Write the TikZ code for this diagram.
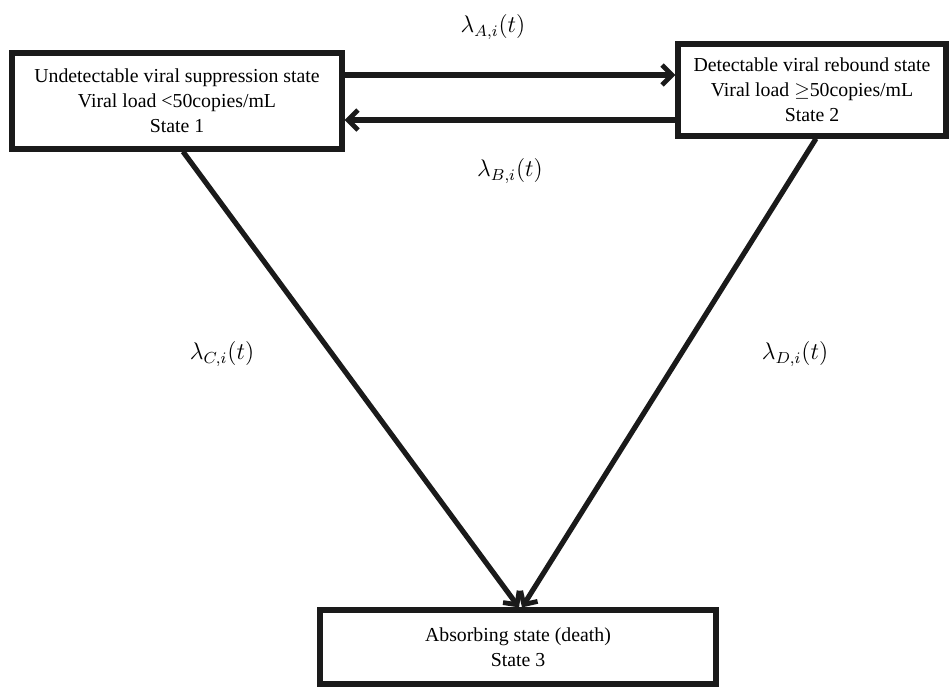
\documentclass[tikz,border=0pt]{standalone}
\usepackage{fontspec}
\setmainfont{Liberation Serif}
\usetikzlibrary{arrows.meta,positioning}
\definecolor{Ink}{HTML}{1A1A1A}
\tikzset{
  statebox/.style={draw=Ink,line width=2.6pt,align=center,inner sep=0pt,
    font=\fontsize{9.9}{12.5}\selectfont},
  trans/.style={draw=Ink,line width=2.6pt,
    -{Straight Barb[length=5pt,width=10pt,line width=2.4pt]}},
  rate/.style={font=\fontsize{12}{14}\selectfont}
}

\begin{document}
\begin{tikzpicture}[x=0.5pt,y=-0.5pt]
  \useasboundingbox (0,0) rectangle (951,687);
  % states
  \node[statebox,minimum width=165pt,minimum height=48pt] (sup) at (177,101)
    {Undetectable viral suppression state\\Viral load <50copies/mL\\State 1};
  \node[statebox,minimum width=134pt,minimum height=46pt] (reb) at (812,90)
    {Detectable viral rebound state\\Viral load $\geq$50copies/mL\\State 2};
  \node[statebox,minimum width=198pt,minimum height=37pt] (death) at (518,647)
    {Absorbing state (death)\\State 3};
  % transitions
  \path ([yshift=13pt]sup.east) coordinate (a1);
  \path ([yshift=-9.5pt]sup.east) coordinate (b1);
  \draw[trans] (a1) -- (a1 -| reb.west);
  \draw[trans] (b1 -| reb.west) -- (b1);
  \draw[trans] ([xshift=3pt]sup.south) -- ([xshift=0.5pt]death.north);
  \draw[trans] ([xshift=2pt]reb.south) -- ([xshift=2pt]death.north);
  % rates
  \node[rate] (ra) at (493,27) {$\lambda_{A,i}(t)$};
  \node[rate] (rb) at (510,171) {$\lambda_{B,i}(t)$};
  \node[rate] (rc) at (222,354) {$\lambda_{C,i}(t)$};
  \node[rate] (rd) at (795,354) {$\lambda_{D,i}(t)$};
\end{tikzpicture}
\end{document}
